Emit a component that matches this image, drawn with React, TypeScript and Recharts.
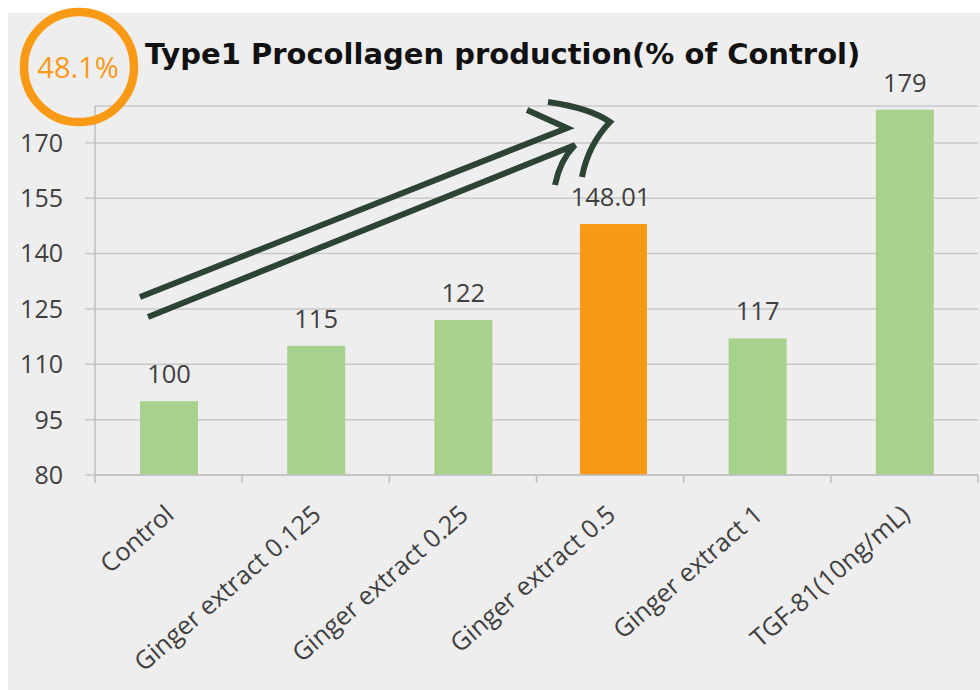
import React from 'react';
import { BarChart, Bar, XAxis, YAxis, CartesianGrid, LabelList } from 'recharts';

const categories = ['Control', 'Ginger extract 0.125', 'Ginger extract 0.25', 'Ginger extract 0.5', 'Ginger extract 1', 'TGF-81(10ng/mL)'];
const values = [100, 115, 122, 148.01, 117, 179];
const valueLabels = ['100', '115', '122', '148.01', '117', '179'];
const highlighted = [false, false, false, true, false, false];
const yTicks = [80, 95, 110, 125, 140, 155, 170];
const yDomain = [80, 180];
const titleText = 'Type1 Procollagen production(% of Control)';
const badgeText = '48.1%';

const data = categories.map((name, i) => ({ name, value: values[i], label: valueLabels[i], hl: highlighted[i] }));

const W = 980;
const H = 690;
const M = { top: 106, right: 2, left: 0, bottom: 0 };
const Y_AXIS_W = 95;
const X_AXIS_H = 215;
const bandW = (W - M.right - Y_AXIS_W) / categories.length;

const GREEN = '#a9d18e';
const ORANGE = '#f99a17';
const TEXT = '#404040';
const GRID = '#c8c8c8';
const FONT = '"Open Sans", "Noto Sans", sans-serif';

const BarShape = (p: any) => {
  const { x, y, width, height, payload } = p;
  if (payload && payload.hl) {
    return <rect x={x - 1.5} y={y} width={width + 9} height={height + 4} fill={ORANGE} />;
  }
  return <rect x={x} y={y} width={width} height={height} fill={GREEN} />;
};

const XTick = (p: any) => {
  const { x, y, payload, index } = p;
  const last = index === categories.length - 1;
  return (
    <g>
      <line x1={x - bandW / 2} x2={x - bandW / 2} y1={y} y2={y + 8} stroke="#bfbfbf" strokeWidth={1.5} />
      {last && <line x1={x + bandW / 2} x2={x + bandW / 2} y1={y} y2={y + 8} stroke="#bfbfbf" strokeWidth={1.5} />}
      <text
        transform={`translate(${x + 7},${y + 42}) rotate(-41)`}
        textAnchor="end"
        fontFamily={FONT}
        fontSize={25.2}
        fill={TEXT}
      >
        {payload.value}
      </text>
    </g>
  );
};

export default function App() {
  return (
    <div style={{ position: 'absolute', left: 0, top: 0, width: W, height: H, background: '#ffffff', overflow: 'hidden' }}>
      <div style={{ position: 'absolute', left: 8, top: 13, width: W - 8, height: H - 13, background: '#eeeeee' }} />
      <div style={{ position: 'absolute', left: 0, top: 0 }}>
        <BarChart width={W} height={H} data={data} margin={M} barSize={58}>
          <CartesianGrid vertical={false} stroke={GRID} strokeWidth={1.5} />
          <XAxis
            dataKey="name"
            interval={0}
            tickLine={false}
            tickSize={0}
            tickMargin={0}
            height={X_AXIS_H}
            axisLine={{ stroke: '#bfbfbf', strokeWidth: 1.5 }}
            tick={<XTick />}
          />
          <YAxis
            domain={yDomain}
            ticks={yTicks}
            interval={0}
            width={Y_AXIS_W}
            tickSize={10}
            tickMargin={22}
            tickLine={{ stroke: GRID, strokeWidth: 1.5 }}
            axisLine={{ stroke: '#bfbfbf', strokeWidth: 1.5 }}
            tick={{ fill: TEXT, fontSize: 25, fontFamily: FONT }}
            allowDataOverflow
          />
          <Bar dataKey="value" isAnimationActive={false} shape={BarShape}>
            <LabelList dataKey="label" position="top" offset={18} fill={TEXT} fontSize={25.5} fontFamily={FONT} />
          </Bar>
        </BarChart>
      </div>
      <svg width={W} height={H} style={{ position: 'absolute', left: 0, top: 0, pointerEvents: 'none' }}>
        <circle cx={79} cy={67} r={55} fill="none" stroke={ORANGE} strokeWidth={8.5} />
        <text x={78} y={78} textAnchor="middle" fontFamily={FONT} fontSize={29} fill={ORANGE}>{badgeText}</text>
        <text x={145} y={64} fontFamily='"DejaVu Sans", Verdana, sans-serif' fontWeight="bold" fontSize={29} fill="#111111">{titleText}</text>
        <g fill="none" stroke="#2b4433" strokeWidth={6} strokeLinejoin="miter">
          <path d="M140,297 L567,128 L527,110" />
          <path d="M148,317 L575,145 Q560,160 555,185" />
          <path d="M548,102 Q590,108 610,122 Q588,145 582,177" />
        </g>
      </svg>
    </div>
  );
}
